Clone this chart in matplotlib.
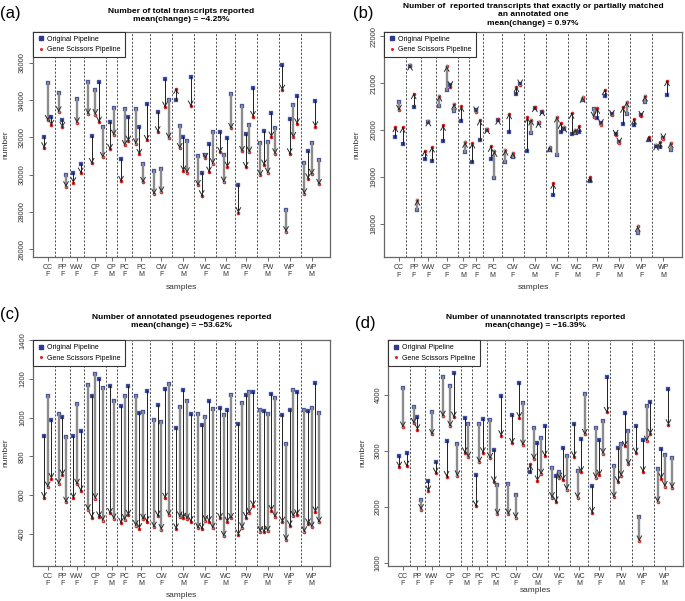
import matplotlib.pyplot as plt
import numpy as np

# ---------------- data ----------------
GROUP_LABELS = ["CC\nF", "PP\nF", "WW\nF", "CP\nF", "CP\nM", "PC\nF", "PC\nM", "CW\nF",
                "CW\nM", "WC\nF", "WC\nM", "PW\nF", "PW\nM", "WP\nF", "WP\nM"]
GROUP_SIZES = [3, 3, 3, 5, 2, 3, 4, 5, 5, 5, 4, 5, 5, 5, 5]

# (a) total transcripts
TOTAL_ORIG = [32018, 34929, 33125, 34393, 32946, 29964, 30107, 34071, 30589,
              34982, 32071, 34571, 34982, 32554, 32839, 33589, 30857, 33554, 33125,
              33554, 32554, 30571, 33804, 30196, 33357, 30286, 35161, 34036,
              34000, 32607, 32018, 31786, 35268, 31000, 30089, 31036, 31625, 32304,
              32304, 31054, 31964, 34339, 29464, 33679, 32179, 32661, 34661,
              31679, 32339, 31768, 33304, 32482, 35911, 28089, 33000, 33732, 34232,
              30625, 31268, 31696, 33946, 30804]
TOTAL_GS = [31446, 32911, 32643, 33375, 32536, 29357, 29571, 32786, 30089,
            33268, 30607, 33232, 32821, 30929, 31357, 32125, 29643, 31571, 31804,
            31661, 31089, 29589, 31839, 28964, 32304, 29071, 33625, 31964,
            34625, 31411, 30196, 30107, 33679, 29429, 28875, 30875, 30143, 30589,
            31196, 29607, 30411, 32482, 27964, 31250, 30393, 31214, 33125,
            29964, 30518, 30089, 32018, 31125, 34536, 26946, 31125, 32000, 32732,
            28982, 29786, 30018, 32571, 29482]

# (b) transcripts matching an annotated one
MATCH_ORIG = [19844, 20591, 19708, 21360, 20498, 18292, 19381, 20170, 19345,
              20520, 19772, 20847, 20950, 20406, 20185, 19523, 19317, 20420, 19787,
              20010, 19388, 18968, 20205, 19310, 19950, 19417, 20762, 20990,
              19545, 19929, 20470, 20140, 20390, 19573, 18619, 19459, 19950, 20029,
              19922, 19929, 19957, 20641, 18918, 20449, 20249, 20140, 20719,
              20340, 19910, 19750, 20135, 20335, 20100, 17808, 20320, 20598, 19787,
              19666, 19644, 19830, 20754, 19573]
MATCH_GS = [20071, 20420, 20057, 21385, 20776, 18505, 19559, 20195, 19637,
            20726, 20100, 21359, 20925, 20555, 20505, 19737, 19722, 20385, 20214,
            20030, 19651, 19545, 20228, 19573, 20349, 19516, 20925, 20960,
            20271, 20214, 20500, 20165, 20413, 19637, 18861, 20278, 20142, 20064,
            20356, 20007, 20078, 20698, 18997, 20271, 20463, 20114, 20861,
            20310, 19885, 19720, 20484, 20598, 20235, 17943, 20290, 20726, 19858,
            19680, 19744, 19810, 21053, 19730]

# (c) annotated pseudogenes
PSEUDO_ORIG = [905, 1112, 990, 1017, 1005, 900, 903, 1071, 931,
               1169, 1110, 1228, 1198, 1152, 1166, 1086, 1062, 1114, 1162,
               1110, 1024, 1028, 1140, 988, 1067, 978, 1150, 1176,
               948, 1053, 1143, 1088, 1019, 1019, 964, 1005, 1086, 1045,
               1052, 1014, 1038, 1117, 969, 1074, 1116, 1131, 1131,
               1038, 1033, 1021, 1124, 1103, 1014, 866, 1038, 1143, 1134,
               1040, 1033, 1050, 1178, 1026]
PSEUDO_GS = [586, 641, 685, 657, 703, 562, 583, 655, 621,
             524, 483, 581, 486, 467, 504, 476, 454, 472, 495,
             441, 426, 474, 462, 433, 491, 421, 583, 495,
             424, 486, 479, 476, 462, 428, 424, 467, 462, 428,
             478, 386, 459, 478, 393, 429, 483, 505, 543,
             410, 407, 412, 519, 485, 459, 367, 440, 490, 497,
             409, 450, 433, 512, 459]

# (d) unannotated transcripts
UNANN_ORIG = [2903, 4131, 2962, 3791, 3612, 2128, 2467, 3696, 2801,
              4322, 3177, 4167, 4388, 3123, 3594, 3487, 2569, 3475, 3577,
              3547, 3022, 2396, 3982, 2414, 3642, 2223, 4221, 3863,
              2617, 3416, 3135, 3225, 3439, 2706, 2551, 2628, 3052, 2915,
              3481, 2640, 3219, 4024, 2378, 3410, 3201, 3535, 4322,
              2736, 3052, 3117, 3684, 3350, 3451, 1823, 3189, 3803, 3881,
              2676, 3040, 2921, 4101, 2879]
UNANN_GS = [2712, 3428, 2730, 3493, 3380, 1955, 2283, 3296, 2605,
            3624, 2545, 3445, 3606, 2557, 2968, 2891, 2020, 2801, 2968,
            2867, 2450, 1871, 3273, 1871, 3135, 1806, 3595, 3106,
            2760, 2855, 2468, 2587, 2909, 2169, 2092, 2515, 2479, 2312,
            2897, 2163, 2628, 3296, 1901, 2521, 2569, 2956, 3690,
            2175, 2450, 2557, 3082, 2760, 2962, 1394, 2628, 3177, 3302,
            2092, 2509, 2366, 3469, 2342]

TITLES = [
    "Number of total transcripts reported\nmean(change) = \u22124.25%",
    "Number of  reported transcripts that exactly or partially matched\nan annotated one\nmean(change) = 0.97%",
    "Number of annotated pseudogenes reported\nmean(change) = \u221253.62%",
    "Number of unannotated transcripts reported\nmean(change) = \u221216.39%",
]
LETTERS = ["(a)", "(b)", "(c)", "(d)"]

BLUE = "#2c3b8e"
RED = "#d92323"
HEAD = "#2a2a2a"

plt.rcParams["font.family"] = ["Liberation Sans", "DejaVu Sans"]


def sample_positions():
    """Samples in a row, with an empty slot (and a dashed line) between groups."""
    xs, seps, centers = [], [], []
    pos = 1
    for i, n in enumerate(GROUP_SIZES):
        if i > 0:
            seps.append(pos)
            pos += 1
        grp = list(range(pos, pos + n))
        xs.extend(grp)
        centers.append(np.mean(grp))
        pos += n
    return xs, seps, centers


def draw_panel(ax, orig, gs, ylim, yticks, xlab_y, ylab_x):
    xs, seps, centers = sample_positions()
    ax.set_xlim(-2, 79)
    ax.set_ylim(*ylim)
    for s in seps:
        ax.axvline(s, color="#333333", lw=0.6, ls=(0, (2.5, 2)), zorder=1)
    ax.plot(xs, orig, "s", color=BLUE, ms=2.8, mec="#8090c8", mew=0.3, zorder=2)
    ax.plot(xs, gs, "o", color=RED, ms=2.6, mew=0, zorder=2)
    eps = (ylim[1] - ylim[0]) * 0.004
    for i, (x, o, g) in enumerate(zip(xs, orig, gs)):
        if i % 2 == 0:
            ax.plot([x, x], [o, g], color="#1e1e1e", lw=0.7, zorder=3)
        else:
            ax.plot([x, x], [o, g], color="#8c8c8c", lw=1.7, zorder=3)
        sgn = 1 if g > o else -1
        ax.annotate("", xy=(x, g), xytext=(x, g - sgn * eps),
                    arrowprops=dict(arrowstyle="->,head_length=0.3,head_width=0.17",
                                    color=HEAD, lw=0.7, shrinkA=0, shrinkB=0),
                    zorder=4)
    ax.set_yticks(yticks)
    ax.set_yticklabels([str(t) for t in yticks], rotation=90, va="center",
                       fontsize=5.5, color="#333333")
    ax.set_xticks(centers)
    ax.set_xticklabels(GROUP_LABELS, fontsize=5, color="#333333", linespacing=1.1)
    ax.tick_params(length=3, width=0.6, color="#555555", pad=2)
    for sp in ax.spines.values():
        sp.set_color("#666666")
        sp.set_linewidth(0.9)
    ax.set_xlabel("samples", fontsize=6, color="#333333")
    ax.xaxis.set_label_coords(0.5, xlab_y)
    ax.set_ylabel("number", fontsize=6, color="#333333")
    ax.yaxis.set_label_coords(ylab_x, 0.5)
    h1, = ax.plot([], [], "s", color=BLUE, ms=2.5)
    h2, = ax.plot([], [], "o", color=RED, ms=2.2, mew=0)
    leg = ax.legend([h1, h2], ["Original Pipeline", "Gene Scissors Pipeline"],
                    loc="upper left", borderaxespad=0, fontsize=5, fancybox=False,
                    framealpha=1, edgecolor="#333333", handlelength=1, handletextpad=0.4,
                    borderpad=0.6, labelspacing=0.5)
    leg.get_frame().set_linewidth(0.8)
    leg.set_zorder(5)


fig = plt.figure(figsize=(6.85, 6.01), dpi=100)
boxes = [
    [0.0482, 0.5724, 0.4336, 0.3749],
    [0.5610, 0.5719, 0.4342, 0.3754],
    [0.0482, 0.0582, 0.4336, 0.3761],
    [0.5669, 0.0582, 0.4302, 0.3761],
]
panels = [
    (TOTAL_ORIG, TOTAL_GS, (25587, 37677), range(26000, 36001, 2000)),
    (MATCH_ORIG, MATCH_GS, (17283, 22098), range(18000, 22001, 1000)),
    (PSEUDO_ORIG, PSEUDO_GS, (232, 1402), range(400, 1401, 200)),
    (UNANN_ORIG, UNANN_GS, (946, 4984), range(1000, 4001, 1000)),
]
xlab_y = [-0.12, -0.12, -0.113, -0.094]
ylab_x = [-0.08, -0.08, -0.08, -0.075]
title_y = [0.987, 0.995, 0.478, 0.478]
letter_pos = [(0.0, 0.99), (0.515, 0.99), (0.0, 0.49), (0.518, 0.475)]

for k, (box, (orig, gs, ylim, yt)) in enumerate(zip(boxes, panels)):
    ax = fig.add_axes(box)
    draw_panel(ax, orig, gs, ylim, list(yt), xlab_y[k], ylab_x[k])
    cx = box[0] + box[2] / 2
    fig.text(cx, title_y[k], TITLES[k], ha="center", va="top", fontsize=6,
             fontweight="bold", linespacing=1.25)
    fig.text(letter_pos[k][0], letter_pos[k][1], LETTERS[k], ha="left", va="top",
             fontsize=12)

fig.savefig("out.png", dpi=100)
